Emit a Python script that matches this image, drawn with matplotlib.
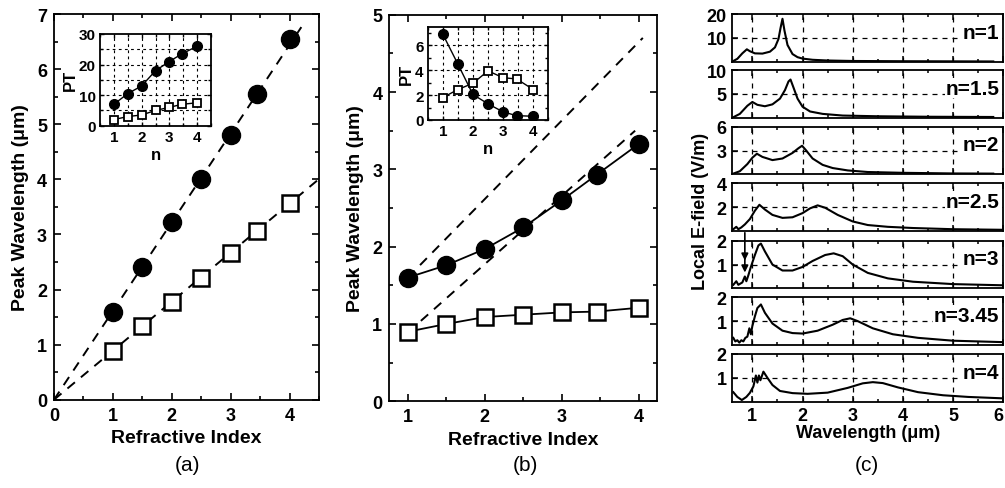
'''
Peak wavelength vs refractive index (a, b) and local E-field spectra (c).
'''
import numpy as np
import matplotlib.pyplot as plt
from matplotlib.ticker import MultipleLocator, NullFormatter

plt.rcParams['font.family'] = ['Liberation Sans', 'DejaVu Sans']
plt.rcParams['font.weight'] = 'bold'
plt.rcParams['axes.labelweight'] = 'bold'
plt.rcParams['xtick.direction'] = 'in'
plt.rcParams['ytick.direction'] = 'in'
plt.rcParams['axes.linewidth'] = 1.3

# refractive indices used in all panels
n_index = [1, 1.5, 2, 2.5, 3, 3.45, 4]

# panel (a): peak wavelength (um) and PT inset
peak_a_circle = [1.6, 2.4, 3.22, 4.0, 4.8, 5.55, 6.55]
peak_a_square = [0.88, 1.33, 1.78, 2.2, 2.66, 3.07, 3.57]
pt_a_circle = [7, 10.5, 13, 18, 21, 23.5, 26]
pt_a_square = [2, 3, 3.5, 5, 6, 7, 7.5]
fit_a_slope = [1.61, 0.89]
fit_a_xend = [4.22, 4.5]

# panel (b)
peak_b_circle = [1.6, 1.76, 1.97, 2.25, 2.6, 2.93, 3.33]
peak_b_square = [0.9, 1.0, 1.09, 1.12, 1.15, 1.16, 1.21]
pt_b_circle = [6.9, 4.5, 2.05, 1.3, 0.65, 0.35, 0.3]
pt_b_square = [1.8, 2.45, 2.95, 3.95, 3.4, 3.3, 2.45]
fit_b_x = [[1.0, 4.05], [1.0, 3.95]]
fit_b_y = [[1.6, 4.7], [0.89, 3.5]]

# panel (c): local E-field spectra
wl_n1 = [0.62, 0.7, 0.8, 0.89, 0.95, 1.05, 1.2, 1.35, 1.45, 1.52, 1.56, 1.6,
         1.64, 1.7, 1.8, 1.9, 2.0, 2.2, 2.5, 3.0, 4.0, 5.0, 5.8]
ef_n1 = [0.3, 1.2, 3.5, 5.2, 4.4, 3.5, 3.4, 4.2, 6.0, 9.5, 14, 18,
         13, 7, 3.2, 1.9, 1.3, 0.8, 0.5, 0.3, 0.2, 0.15, 0.1]
wl_n15 = [0.62, 0.75, 0.9, 1.0, 1.1, 1.25, 1.4, 1.55, 1.65, 1.72, 1.76, 1.82,
          1.9, 2.0, 2.15, 2.4, 2.8, 3.5, 4.5, 5.8]
ef_n15 = [0.1, 0.8, 2.5, 3.3, 2.7, 2.4, 2.8, 4.0, 5.8, 7.6, 8.0, 6.3,
          4.0, 2.3, 1.3, 0.8, 0.45, 0.3, 0.2, 0.15]
wl_n2 = [0.62, 0.75, 0.9, 1.0, 1.09, 1.2, 1.4, 1.6, 1.8, 1.92, 1.99, 2.06,
         2.2, 2.4, 2.6, 2.9, 3.3, 4.0, 5.0, 5.8]
ef_n2 = [0.1, 0.4, 1.3, 2.1, 2.6, 2.2, 1.8, 2.0, 2.7, 3.3, 3.6, 3.1,
         2.0, 1.2, 0.8, 0.5, 0.3, 0.2, 0.12, 0.1]
wl_n25 = [0.62, 0.68, 0.72, 0.78, 0.85, 0.95, 1.05, 1.14, 1.25, 1.4, 1.6, 1.8,
          2.0, 2.15, 2.3, 2.45, 2.7, 3.0, 3.3, 3.7, 4.2, 5.0, 6.0]
ef_n25 = [0.15, 0.35, 0.15, 0.3, 0.55, 1.0, 1.7, 2.2, 1.8, 1.35, 1.1, 1.15,
          1.5, 1.9, 2.15, 1.95, 1.35, 0.8, 0.5, 0.35, 0.25, 0.15, 0.1]
wl_n3 = [0.62, 0.68, 0.72, 0.76, 0.8, 0.85, 0.88, 0.92, 0.97, 1.05, 1.12, 1.17,
         1.25, 1.4, 1.6, 1.8, 2.0, 2.2, 2.45, 2.62, 2.8, 3.0, 3.3, 3.7, 4.2,
         5.0, 6.0]
ef_n3 = [0.15, 0.3, 0.15, 0.2, 0.25, 0.5, 0.3, 0.55, 0.9, 1.4, 1.8, 1.88,
         1.55, 1.0, 0.75, 0.75, 0.9, 1.15, 1.4, 1.47, 1.35, 1.0, 0.65, 0.42,
         0.28, 0.18, 0.13]
wl_n345 = [0.62, 0.66, 0.7, 0.74, 0.78, 0.82, 0.86, 0.9, 0.94, 0.97, 1.0, 1.05,
           1.1, 1.17, 1.25, 1.4, 1.6, 1.8, 2.0, 2.3, 2.6, 2.8, 2.95, 3.1, 3.4,
           3.8, 4.3, 5.0, 6.0]
ef_n345 = [0.3, 0.15, 0.2, 0.1, 0.2, 0.15, 0.3, 0.35, 0.7, 0.45, 0.8, 1.2,
           1.55, 1.7, 1.35, 0.9, 0.6, 0.5, 0.48, 0.6, 0.85, 1.05, 1.12, 1.0,
           0.7, 0.45, 0.3, 0.18, 0.12]
wl_n4 = [0.62, 0.7, 0.79, 0.88, 0.95, 1.02, 1.07, 1.1, 1.13, 1.16, 1.22, 1.3,
         1.4, 1.55, 1.8, 2.1, 2.5, 2.9, 3.2, 3.4, 3.6, 3.9, 4.3, 4.8, 5.3, 6.0]
ef_n4 = [0.4, 0.2, 0.07, 0.2, 0.37, 0.64, 1.1, 0.8, 1.1, 0.9, 1.26, 1.0,
         0.7, 0.45, 0.36, 0.33, 0.38, 0.58, 0.77, 0.82, 0.78, 0.6, 0.4, 0.27,
         0.2, 0.14]
c_labels = ['n=1', 'n=1.5', 'n=2', 'n=2.5', 'n=3', 'n=3.45', 'n=4']
c_ymax = [20, 10, 6, 4, 2, 2, 2]
wl_ticks = [1, 2, 3, 4, 5, 6]

W, H = 1005, 489
fig = plt.figure(figsize=(W / 100, H / 100), dpi=100)


def add_px_axes(left, top, right, bottom):
    return fig.add_axes([left / W, 1 - bottom / H, (right - left) / W,
                         (bottom - top) / H])


def style_main(ax):
    ax.tick_params(which='both', top=True, right=True, width=1.2,
                   labelsize=13, pad=5)
    ax.tick_params(which='major', length=5)
    ax.tick_params(which='minor', length=3)


def style_inset(ax, ygrid):
    ax.set_xlim(0.5, 4.5)
    ax.xaxis.set_major_locator(MultipleLocator(1))
    ax.xaxis.set_minor_locator(MultipleLocator(0.5))
    ax.tick_params(which='both', top=True, right=True, width=1,
                   labelsize=11, pad=3)
    ax.tick_params(which='major', length=3)
    ax.tick_params(which='minor', length=2)
    for x in np.arange(1, 4.5, 0.5):
        ax.axvline(x, color='k', lw=0.8, ls=(0, (2.5, 3)), zorder=0)
    for y in ygrid:
        ax.axhline(y, color='k', lw=0.8, ls=(0, (2.5, 3)), zorder=0)
    ax.set_xlabel('n', fontsize=12, labelpad=2)
    ax.set_ylabel('PT', fontsize=12, labelpad=1)


# ---- panel (a)
ax_a = add_px_axes(54, 15, 319, 400.7)
for slope, xend in zip(fit_a_slope, fit_a_xend):
    xs = np.array([0, xend])
    ax_a.plot(xs, slope * xs, color='k', lw=1.4, ls=(0, (5, 4)), zorder=1)
ax_a.plot(n_index, peak_a_circle, 'o', color='k', ms=13, zorder=3)
ax_a.plot(n_index, peak_a_square, 's', mfc='white', mec='k', mew=1.8,
          ms=11, zorder=3)
ax_a.set_xlim(0, 4.5)
ax_a.set_ylim(0, 7)
ax_a.xaxis.set_major_locator(MultipleLocator(1))
ax_a.xaxis.set_minor_locator(MultipleLocator(0.5))
ax_a.yaxis.set_major_locator(MultipleLocator(1))
ax_a.yaxis.set_minor_locator(MultipleLocator(0.5))
style_main(ax_a)
ax_a.set_xlabel('Refractive Index', fontsize=14, labelpad=4)
ax_a.set_ylabel('Peak Wavelength (\u03bcm)', fontsize=14, labelpad=6)

ins_a = add_px_axes(100, 35, 211, 126.7)
ins_a.plot(n_index, pt_a_circle, '-o', color='k', lw=1, ms=7)
ins_a.plot(n_index, pt_a_square, '-s', color='k', mfc='white', mew=1.3,
           lw=1, ms=6)
ins_a.set_ylim(0, 30)
ins_a.yaxis.set_major_locator(MultipleLocator(10))
ins_a.yaxis.set_minor_locator(MultipleLocator(5))
style_inset(ins_a, [5, 10, 15, 20, 25])

# ---- panel (b)
ax_b = add_px_axes(389.3, 15.7, 656.7, 402.3)
for xs, ys in zip(fit_b_x, fit_b_y):
    ax_b.plot(xs, ys, color='k', lw=1.4, ls=(0, (5, 4)), zorder=1)
ax_b.plot(n_index, peak_b_circle, '-o', color='k', lw=1.3, ms=13, zorder=3)
ax_b.plot(n_index, peak_b_square, '-s', color='k', mfc='white', mew=1.8,
          lw=1.3, ms=11, zorder=3)
ax_b.set_xlim(0.76, 4.23)
ax_b.set_ylim(0, 5)
ax_b.xaxis.set_major_locator(MultipleLocator(1))
ax_b.xaxis.set_minor_locator(MultipleLocator(0.5))
ax_b.yaxis.set_major_locator(MultipleLocator(1))
ax_b.yaxis.set_minor_locator(MultipleLocator(0.5))
style_main(ax_b)
ax_b.set_xlabel('Refractive Index', fontsize=14, labelpad=4)
ax_b.set_ylabel('Peak Wavelength (\u03bcm)', fontsize=14, labelpad=6)

ins_b = add_px_axes(427.7, 27.7, 548.3, 121)
ins_b.plot(n_index, pt_b_circle, '-o', color='k', lw=1, ms=7, zorder=3)
ins_b.plot(n_index, pt_b_square, '-s', color='k', mfc='white', mew=1.3,
           lw=1, ms=6, zorder=3)
ins_b.set_ylim(0, 7.5)
ins_b.yaxis.set_major_locator(MultipleLocator(2))
ins_b.yaxis.set_minor_locator(MultipleLocator(1))
style_inset(ins_b, [2, 4, 6])

# ---- panel (c)
c_tops = [15, 71, 127.7, 184.3, 241.7, 298.3, 355]
c_height = 47.7
spectra = [(wl_n1, ef_n1), (wl_n15, ef_n15), (wl_n2, ef_n2), (wl_n25, ef_n25),
           (wl_n3, ef_n3), (wl_n345, ef_n345), (wl_n4, ef_n4)]
c_axes = []
for i, (wl, ef) in enumerate(spectra):
    ax = add_px_axes(732.3, c_tops[i], 1003.3, c_tops[i] + c_height)
    ax.plot(wl, ef, color='k', lw=1.5)
    ymax = c_ymax[i]
    ax.set_xlim(0.6, 6)
    ax.set_ylim(0, ymax)
    ax.set_yticks([ymax / 2, ymax])
    ax.yaxis.set_major_formatter(
        plt.FuncFormatter(lambda v, p: '%g' % v))
    ax.set_xticks(wl_ticks)
    ax.xaxis.set_minor_locator(MultipleLocator(0.5))
    ax.tick_params(which='both', top=True, width=1.1, labelsize=13, pad=4)
    ax.tick_params(which='major', length=4)
    ax.tick_params(which='minor', length=2.5)
    for x in wl_ticks[:-1]:
        ax.axvline(x, color='k', lw=0.9, ls=(0, (4, 4)), zorder=0)
    ax.axhline(ymax / 2, color='k', lw=0.9, ls=(0, (4, 4)), zorder=0)
    ax.text(0.985, 0.62, c_labels[i], transform=ax.transAxes, ha='right',
            va='center', fontsize=15,
            bbox=dict(facecolor='white', edgecolor='none', pad=0.5))
    if i < len(spectra) - 1:
        ax.xaxis.set_major_formatter(NullFormatter())
    c_axes.append(ax)

ax_last = c_axes[-1]
tick_texts = ax_last.set_xticklabels([str(t) for t in wl_ticks])
# keep the last wavelength tick label inside the figure
tick_texts[-1].set_horizontalalignment('right')
ax_last.set_xlabel('Wavelength (\u03bcm)', fontsize=13, labelpad=0)

# double arrow marking the small feature for n=3
ax3 = c_axes[4]
ax3.annotate('', xy=(0.85, 0.55), xytext=(0.85, 2.45),
             arrowprops=dict(arrowstyle='-|>', color='k', lw=1.2,
                             mutation_scale=10), annotation_clip=False)
ax3.annotate('', xy=(0.85, 1.05), xytext=(0.85, 1.5),
             arrowprops=dict(arrowstyle='-|>', color='k', lw=1.2,
                             mutation_scale=10), annotation_clip=False)

fig.text(700 / W, 1 - 211 / H, 'Local E-field (V/m)', rotation=90,
         ha='center', va='center', fontsize=13)

# panel tags
for x, tag in zip([187, 525, 867], ['(a)', '(b)', '(c)']):
    fig.text(x / W, 1 - 466 / H, tag, ha='center', va='center',
             fontsize=15, fontweight='normal')

fig.savefig('out.png', dpi=100)
